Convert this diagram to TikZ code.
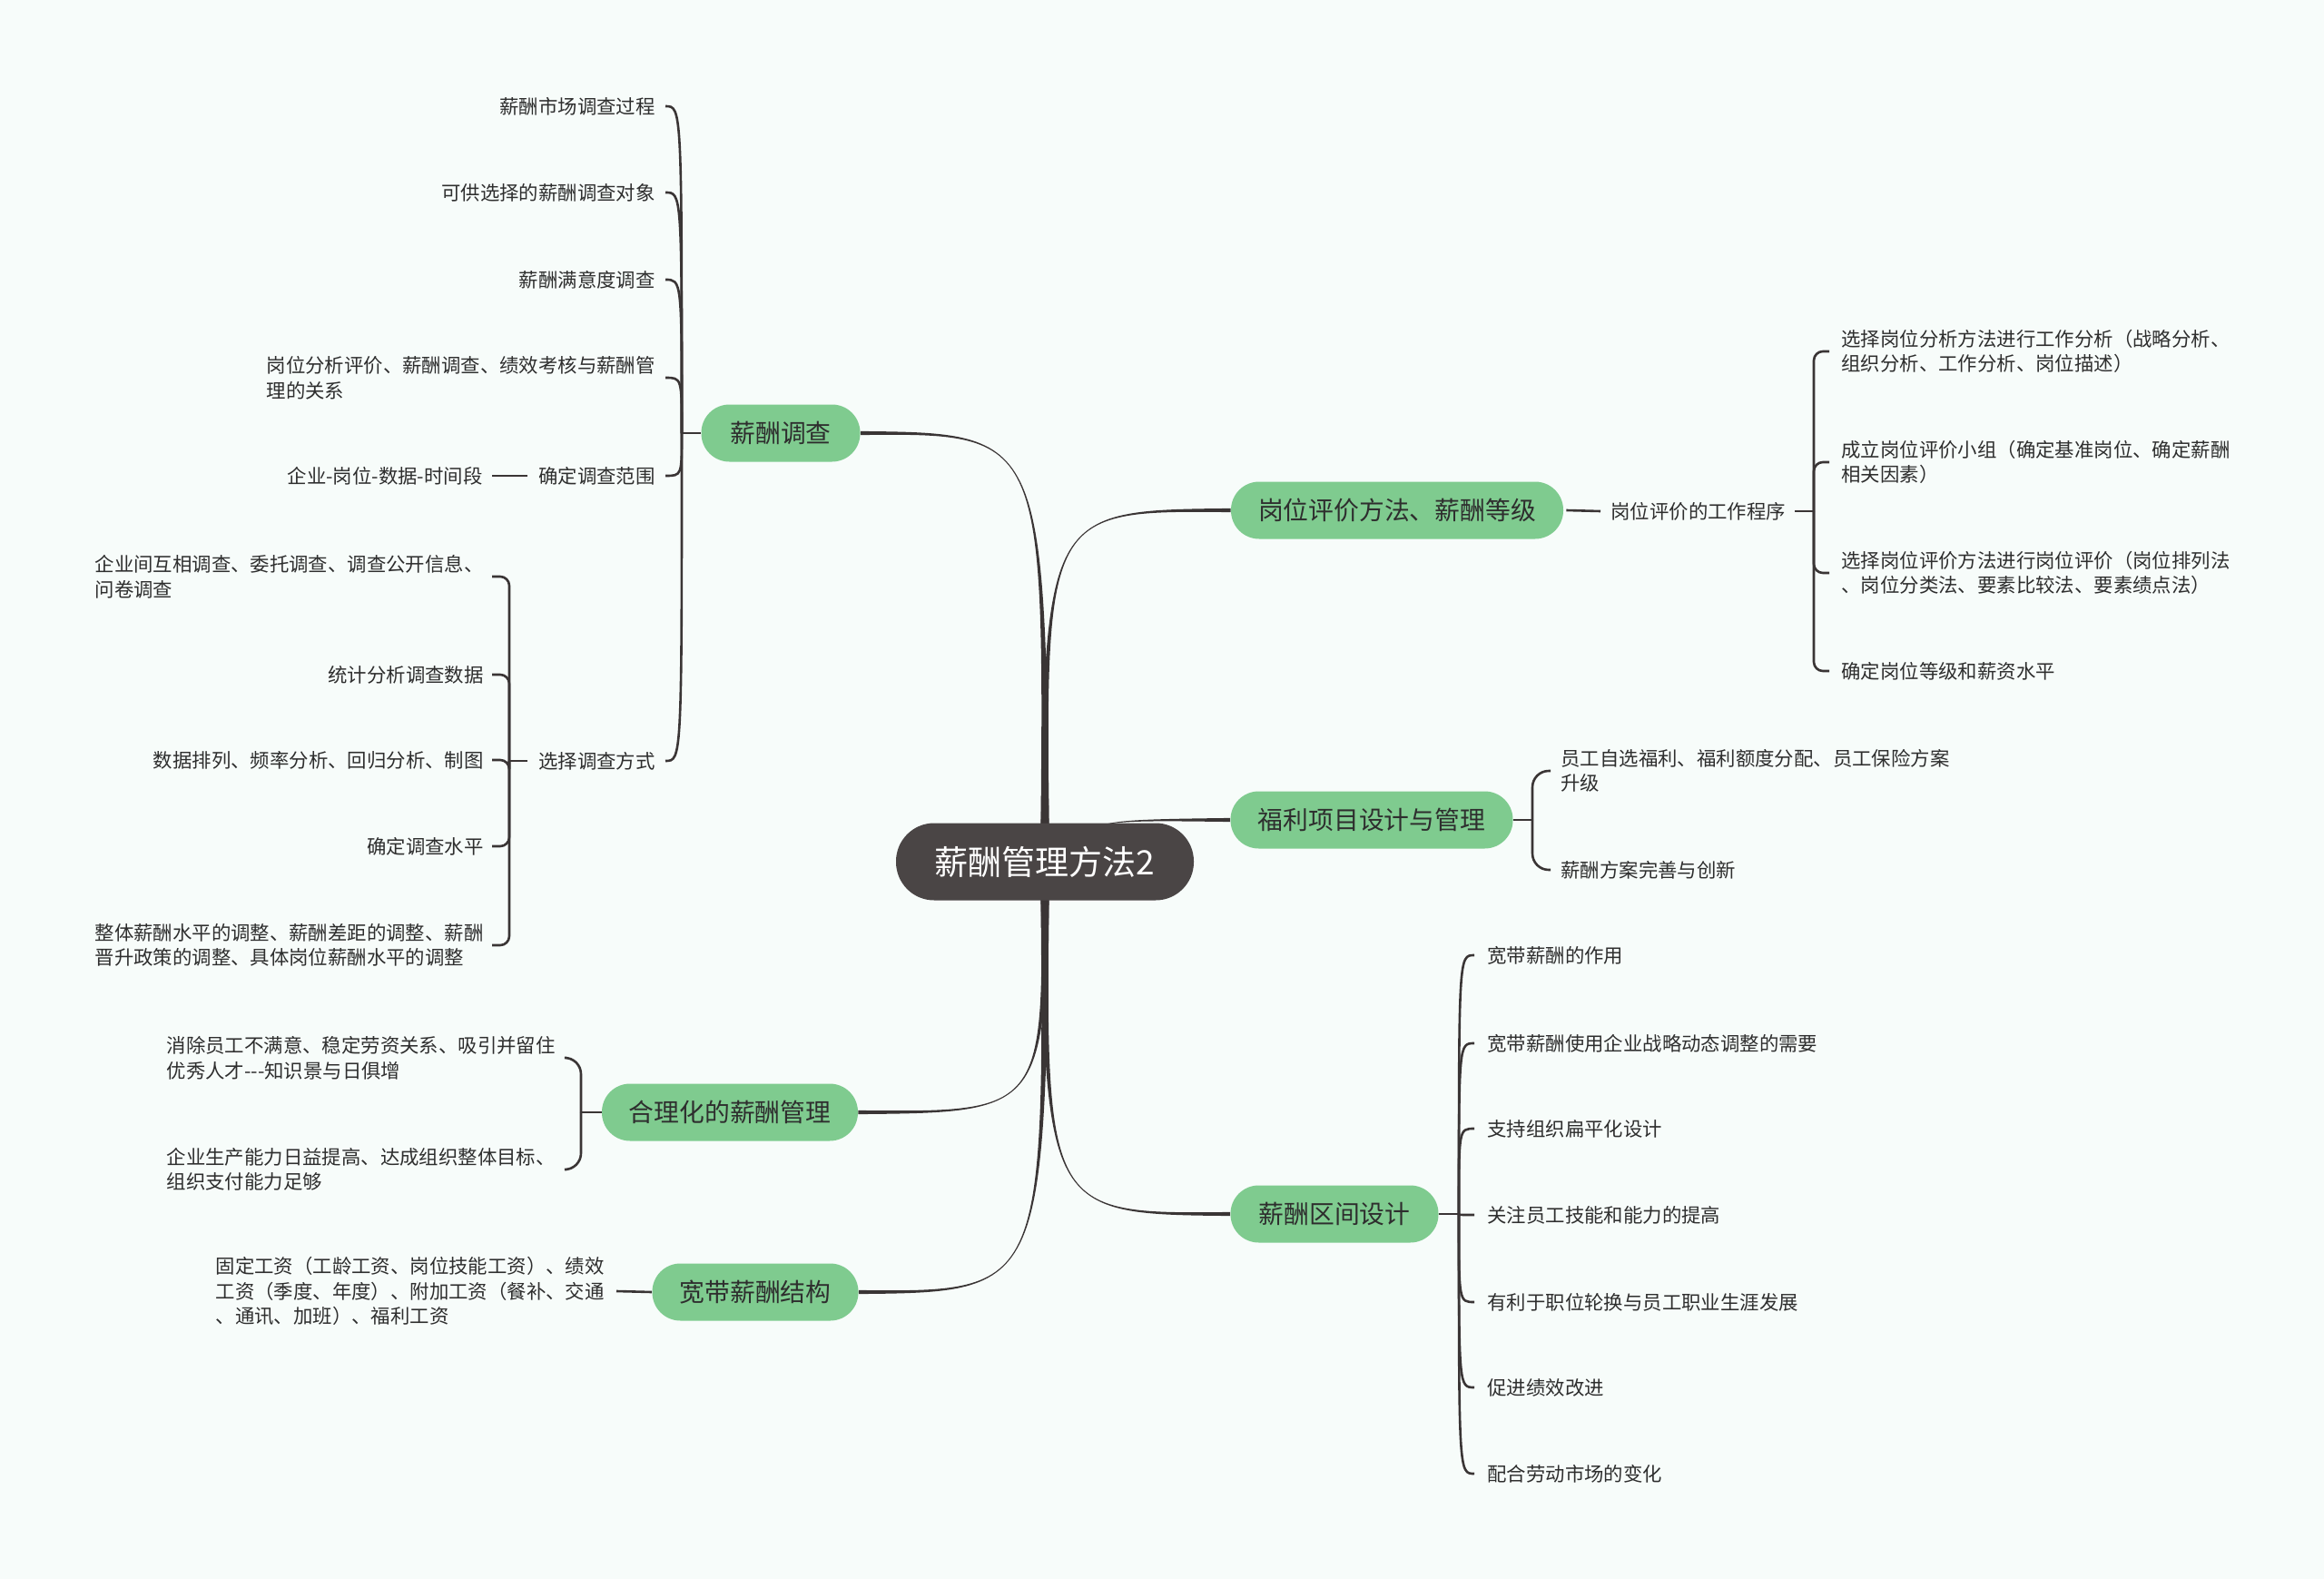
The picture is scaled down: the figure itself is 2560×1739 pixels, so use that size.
\documentclass[tikz,border=0pt]{standalone}
\usepackage{fontspec}
\setmainfont{Noto Sans CJK SC}
\usetikzlibrary{calc}
\definecolor{bgc}{HTML}{F7FCFA}
\definecolor{greenc}{HTML}{7FCB8F}
\definecolor{darkc}{HTML}{4A4545}
\definecolor{linec}{HTML}{3A3535}
\definecolor{txtc}{HTML}{2E2E2E}
\pgfdeclarelayer{bglayer}
\pgfdeclarelayer{lines}
\pgfsetlayers{bglayer,lines,main}
% #1 start point, #2 target anchor, #3 sign pairing
\newcommand\mainlink[3]{%
  \fill[linec] ($(#1)+(-5,0)$) .. controls (#1 |- #2) .. ($(#2)+(0,{#3*2.1})$)
    -- ($(#2)+(0,{-#3*2.1})$) .. controls (#1 |- #2) .. ($(#1)+(5,0)$) -- cycle;}
\begin{document}
\begin{tikzpicture}[x=0.5pt,y=-0.5pt,
  centernode/.style={fill=darkc, text=white, minimum width=164pt, minimum height=42.5pt,
    rounded corners=21pt, inner sep=0pt, font=\fontsize{18.5}{22}\selectfont},
  mainnode/.style={fill=greenc, text=txtc, minimum height=31.5pt, rounded corners=15.5pt,
    inner sep=0pt, font=\fontsize{13.9}{17}\selectfont},
  leaf/.style={inner sep=0pt, text=txtc, align=left, font=\fontsize{10.7}{13.8}\selectfont},
  leafline/.style={draw=linec, line width=1.3pt}]
\begin{pgfonlayer}{bglayer}
\fill[bgc] (0,0) rectangle (2560,1739);
\end{pgfonlayer}
\useasboundingbox (0,0) rectangle (2560,1739);

% central and main nodes
\node[centernode] (c) at (1151,949) {薪酬管理方法2};
\node[mainnode, minimum width=87.5pt] (A) at (860,477) {薪酬调查};
\node[mainnode, minimum width=183pt] (B) at (1539,562) {岗位评价方法、薪酬等级};
\node[mainnode, minimum width=155.5pt] (C) at (1511,903) {福利项目设计与管理};
\node[mainnode, minimum width=114.5pt] (D) at (1470,1337) {薪酬区间设计};
\node[mainnode, minimum width=141pt] (E) at (804,1225) {合理化的薪酬管理};
\node[mainnode, minimum width=113.5pt] (F) at (832,1423) {宽带薪酬结构};

% group A leaves
\node[leaf, anchor=east] (a1) at (722,117) {薪酬市场调查过程};
\node[leaf, anchor=east] (a2) at (722,212) {可供选择的薪酬调查对象};
\node[leaf, anchor=east] (a3) at (722,308) {薪酬满意度调查};
\node[leaf, anchor=east] (a4) at (722,416) {岗位分析评价、薪酬调查、绩效考核与薪酬管\\理的关系};
\node[leaf, anchor=east] (a5) at (722,524) {确定调查范围};
\node[leaf, anchor=east] (a6) at (722,838) {选择调查方式};
\node[leaf, anchor=east] (a5x) at (532,524) {企业-岗位-数据-时间段};
% children of a6
\node[leaf, anchor=east] (b1) at (533,635) {企业间互相调查、委托调查、调查公开信息、\\问卷调查};
\node[leaf, anchor=east] (b2) at (533,743) {统计分析调查数据};
\node[leaf, anchor=east] (b3) at (533,837) {数据排列、频率分析、回归分析、制图};
\node[leaf, anchor=east] (b4) at (533,932) {确定调查水平};
\node[leaf, anchor=east] (b5) at (533,1041) {整体薪酬水平的调整、薪酬差距的调整、薪酬\\晋升政策的调整、具体岗位薪酬水平的调整};

% group B leaves
\node[leaf, anchor=west] (B1) at (1774,563) {岗位评价的工作程序};
\node[leaf, anchor=west] (c1) at (2028,387) {选择岗位分析方法进行工作分析（战略分析、\\组织分析、工作分析、岗位描述）};
\node[leaf, anchor=west] (c2) at (2028,509) {成立岗位评价小组（确定基准岗位、确定薪酬\\相关因素）};
\node[leaf, anchor=west] (c3) at (2028,631) {选择岗位评价方法进行岗位评价（岗位排列法\\、岗位分类法、要素比较法、要素绩点法）};
\node[leaf, anchor=west] (c4) at (2028,739) {确定岗位等级和薪资水平};

% group C leaves
\node[leaf, anchor=west] (d1) at (1719,849) {员工自选福利、福利额度分配、员工保险方案\\升级};
\node[leaf, anchor=west] (d2) at (1719,958) {薪酬方案完善与创新};

% group D leaves
\node[leaf, anchor=west] (e1) at (1638,1052) {宽带薪酬的作用};
\node[leaf, anchor=west] (e2) at (1638,1149) {宽带薪酬使用企业战略动态调整的需要};
\node[leaf, anchor=west] (e3) at (1638,1243) {支持组织扁平化设计};
\node[leaf, anchor=west] (e4) at (1638,1338) {关注员工技能和能力的提高};
\node[leaf, anchor=west] (e5) at (1638,1434) {有利于职位轮换与员工职业生涯发展};
\node[leaf, anchor=west] (e6) at (1638,1528) {促进绩效改进};
\node[leaf, anchor=west] (e7) at (1638,1623) {配合劳动市场的变化};

% group E leaves
\node[leaf, anchor=east] (f1) at (612,1165) {消除员工不满意、稳定劳资关系、吸引并留住\\优秀人才-{}-{}-知识景与日俱增};
\node[leaf, anchor=east] (f2) at (612,1288) {企业生产能力日益提高、达成组织整体目标、\\组织支付能力足够};

% group F leaf
\node[leaf, anchor=east] (g1) at (666,1422) {固定工资（工龄工资、岗位技能工资）、绩效\\工资（季度、年度）、附加工资（餐补、交通\\、通讯、加班）、福利工资};

% helper coordinates
\coordinate (cC) at (1195,949);
\coordinate (hA) at (751,477);
\coordinate (eA) at (733,0);
\coordinate (sA6) at (561,0);
\coordinate (eA6) at (542,0);
\coordinate (sB) at (1998,0);
\coordinate (eB) at (2015,0);
\coordinate (sC) at (1688,0);
\coordinate (eC) at (1708,0);
\coordinate (hD) at (1607,1337);
\coordinate (eD) at (1624,0);
\coordinate (sE) at (640,0);
\coordinate (eE) at (624,0);

\begin{pgfonlayer}{lines}
% main tapered links
\mainlink{c.center}{A.east}{1}
\mainlink{c.center}{B.west}{-1}
\mainlink{cC}{C.west}{-1}
\mainlink{c.center}{D.west}{1}
\mainlink{c.center}{E.east}{-1}
\mainlink{c.center}{F.east}{-1}

% group A
\draw[leafline] (A.west) -- (hA);
\foreach \n in {a1,a2,a3,a4,a5,a6}
  \draw[leafline] (hA) .. controls (hA |- \n.east) .. (\n.east -| eA);
\draw[leafline] ($(a5x.east)+(10,0)$) -- ($(a5.west)+(-12,0)$);
\draw[leafline] ($(a6.west)+(-12,0)$) -- (a6.west -| sA6);
\foreach \n in {b1,b2,b3,b4,b5}
  \draw[leafline, rounded corners=5pt] (a6.west -| sA6) |- (\n.east -| eA6);

% group B
\draw[leafline] ($(B.east)+(3,0)$) -- ($(B1.west)+(-11,0)$);
\draw[leafline] ($(B1.east)+(10,0)$) -- (B1.east -| sB);
\foreach \n in {c1,c2,c3,c4}
  \draw[leafline, rounded corners=5pt] (B1.east -| sB) |- (\n.west -| eB);

% group C
\draw[leafline] (C.east) -- (C.east -| sC);
\foreach \n in {d1,d2}
  \draw[leafline, rounded corners=9pt] (C.east -| sC) |- (\n.west -| eC);

% group D
\draw[leafline] (D.east) -- (hD);
\foreach \n in {e1,e2,e3,e4,e5,e6,e7}
  \draw[leafline] (hD) .. controls (hD |- \n.west) .. (\n.west -| eD);

% group E
\draw[leafline] (E.west) -- (E.west -| sE);
\foreach \n in {f1,f2}
  \draw[leafline, rounded corners=9pt] (E.west -| sE) |- (\n.east -| eE);

% group F
\draw[leafline] ($(g1.east)+(13,0)$) -- (F.west);
\end{pgfonlayer}
\end{tikzpicture}
\end{document}
